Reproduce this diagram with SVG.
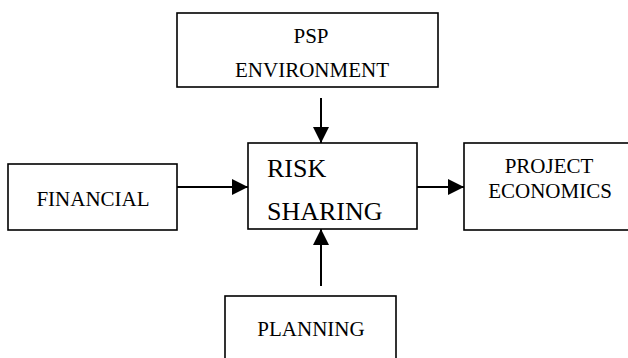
<svg xmlns="http://www.w3.org/2000/svg" width="628" height="358" viewBox="0 0 628 358">
<defs>
<style>
.box{fill:#fff;stroke:#000;stroke-width:1.6}
.t{font-family:"Liberation Serif","Times New Roman",serif;font-size:21px;fill:#000}
.big{font-size:26px}
.c{stroke:#000;stroke-width:2;fill:none}
</style>
<marker id="ah" viewBox="0 0 16 16" refX="16" refY="8" markerWidth="16" markerHeight="16" markerUnits="userSpaceOnUse" orient="auto">
<path d="M0,0 L16,8 L0,16 Z" fill="#000"/>
</marker>
</defs>
<rect width="628" height="358" fill="#fff"/>
<g id="connectors">
<line class="c" x1="321" y1="98" x2="321" y2="143" marker-end="url(#ah)"/>
<line class="c" x1="177" y1="187" x2="248" y2="187" marker-end="url(#ah)"/>
<line class="c" x1="417" y1="187" x2="464" y2="187" marker-end="url(#ah)"/>
<line class="c" x1="321" y1="286" x2="321" y2="229" marker-end="url(#ah)"/>
</g>
<g id="psp">
<rect class="box" x="177" y="13" width="261" height="74"/>
<text class="t" x="311" y="43" text-anchor="middle">PSP</text>
<text class="t" x="312" y="77" text-anchor="middle">ENVIRONMENT</text>
</g>
<g id="financial">
<rect class="box" x="8" y="164" width="169" height="66"/>
<text class="t" x="93" y="206" text-anchor="middle">FINANCIAL</text>
</g>
<g id="risk">
<rect class="box" x="248" y="143" width="169" height="86"/>
<text class="t big" x="267" y="177">RISK</text>
<text class="t big" x="267" y="220">SHARING</text>
</g>
<g id="project">
<rect class="box" x="464" y="143" width="170" height="87"/>
<text class="t" x="549" y="173" text-anchor="middle">PROJECT</text>
<text class="t" x="550" y="198" text-anchor="middle">ECONOMICS</text>
</g>
<g id="planning">
<rect class="box" x="225" y="296" width="171" height="70"/>
<text class="t" x="311" y="336" text-anchor="middle">PLANNING</text>
</g>
</svg>
